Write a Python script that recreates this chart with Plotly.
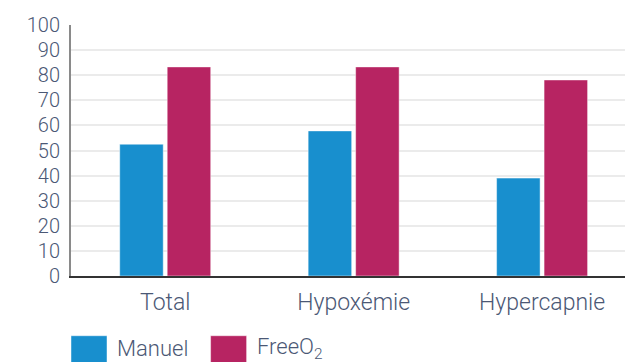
import plotly.graph_objects as go

categories = ["Total", "Hypoxémie", "Hypercapnie"]
series_names = ["Manuel", "FreeO<sub>2</sub>"]
manuel = [52.5, 57.8, 39]
freeo2 = [83.3, 83.3, 78.1]
y_ticks = [0, 10, 20, 30, 40, 50, 60, 70, 80, 90, 100]
colors = ["#188fce", "#b72462"]

text_color = "#4b5875"
font_family = "Roboto, sans-serif"

fig = go.Figure()
for name, vals, col in zip(series_names, [manuel, freeo2], colors):
    fig.add_trace(go.Bar(
        x=categories, y=vals, name=name,
        marker=dict(color=col, line=dict(color="rgba(255,255,255,0.45)", width=1)),
        showlegend=False,
    ))

fig.update_layout(
    width=625, height=362,
    margin=dict(l=71, r=0, t=25, b=86),
    paper_bgcolor="white", plot_bgcolor="white",
    barmode="group", bargap=0.496, bargroupgap=0.084,
    font=dict(family=font_family, color=text_color, size=19),
)
fig.update_xaxes(
    range=[-0.5, 2.44], showline=True, linecolor="#333333", linewidth=2,
    ticks="", tickfont=dict(size=23, color=text_color, weight=300),
    showgrid=False, ticklabelstandoff=4,
)
fig.update_yaxes(
    range=[0, 100], tickvals=y_ticks, showline=True, linecolor="#8a8a8a", linewidth=2,
    gridcolor="#ebebeb", gridwidth=1.5, zeroline=False, ticks="",
    tickfont=dict(size=20, color=text_color, weight=300), ticklabelstandoff=5,
)

# legend keys
leg_x = [0.0, 0.252]
for i, (name, col) in enumerate(zip(series_names, colors)):
    x0 = leg_x[i]
    fig.add_shape(type="rect", xref="paper", yref="paper",
                  x0=x0, x1=x0 + 36 / 554, y0=-0.42, y1=-0.238,
                  fillcolor=col, line=dict(color="rgba(255,255,255,0.45)", width=1))
    fig.add_annotation(xref="paper", yref="paper", x=x0 + 44 / 554, y=-0.29,
                       text=name, showarrow=False, xanchor="left", yanchor="middle",
                       font=dict(size=22, color=text_color, weight=300))

fig.write_html("out.html")
